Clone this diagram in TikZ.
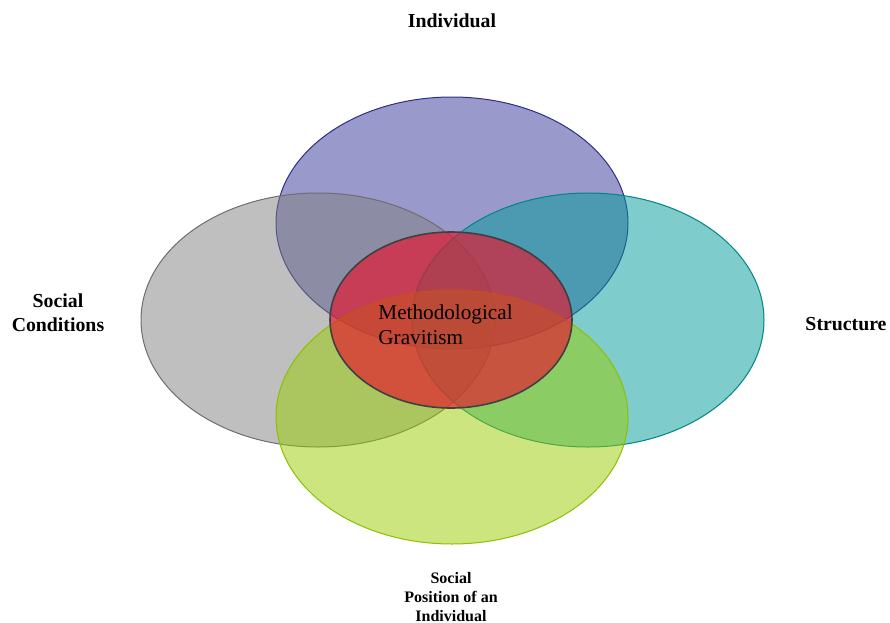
\documentclass[tikz,border=0pt]{standalone}
\usepackage{fontspec}
\setmainfont{Liberation Serif}
\usetikzlibrary{shapes.geometric}
\definecolor{indivFill}{HTML}{333399}
\definecolor{indivLine}{HTML}{2E2E8A}
\definecolor{condFill}{HTML}{808080}
\definecolor{condLine}{HTML}{6E6E6E}
\definecolor{structFill}{HTML}{009999}
\definecolor{structLine}{HTML}{008585}
\definecolor{posFill}{HTML}{99CC00}
\definecolor{posLine}{HTML}{8CBF00}
\definecolor{coreFill}{HTML}{E6142A}
\definecolor{coreLine}{HTML}{404040}
\tikzset{
  % Specifications for style of the sets:
    setBase/.style = {ellipse, inner sep=0pt, line width=0.5pt,
                      minimum width=176pt, minimum height=127pt},
   indivSet/.style = {setBase, draw=indivLine, fill=indivFill, fill opacity=0.5},
    condSet/.style = {setBase, draw=condLine, fill=condFill, fill opacity=0.5},
  structSet/.style = {setBase, draw=structLine, fill=structFill, fill opacity=0.5},
     posSet/.style = {setBase, draw=posLine, fill=posFill, fill opacity=0.5},
    coreSet/.style = {setBase, draw=coreLine, line width=0.8pt, fill=coreFill,
                      fill opacity=0.65, minimum width=121pt, minimum height=88pt},
  % Specifications for style of the captions:
    caption/.style = {align=center, inner sep=0pt,
                      font=\bfseries\fontsize{9.9}{12}\selectfont},
}

\begin{document}
\begin{tikzpicture}[x=0.5pt, y=-0.5pt]
    \useasboundingbox (0,0) rectangle (890,622);
    % Specification of the sets
    \node (individualSet) [indivSet, minimum height=126pt] at (452,223) {};
    \node (conditionsSet) [condSet, minimum width=177pt]    at (318,320) {};
    \node (structureSet)  [structSet]                       at (588,320) {};
    \node (positionSet)   [posSet]                          at (452,417) {};
    \node (gravitismSet)  [coreSet]                         at (451,320) {};

    % Specification of the captions
    \node (individual)       [caption] at (452,21)  {Individual};
    \node (socialConditions) [caption] at (58,313)  {Social\\Conditions};
    \node (structure)        [caption] at (846,324) {Structure};
    \node (socialPosition)   [caption, font=\bfseries\fontsize{8}{9.5}\selectfont]
                                       at (451,597) {Social\\Position of an\\Individual};
    \node (gravitism) [inner sep=0pt, align=left, anchor=west,
                       font=\fontsize{10.6}{12.5}\selectfont]
                                       at (378,325) {Methodological\\Gravitism};
\end{tikzpicture}
\end{document}
